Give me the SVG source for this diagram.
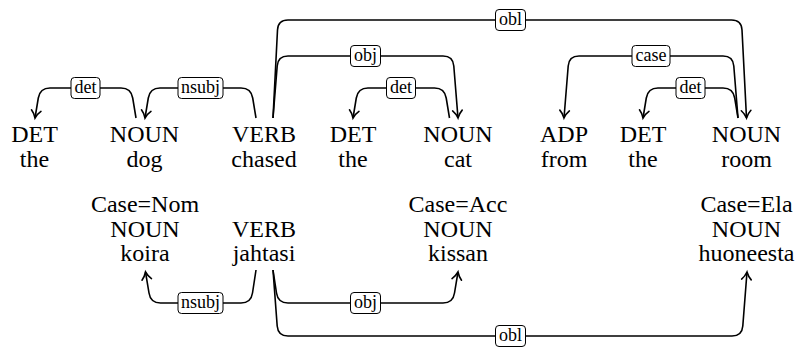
<svg xmlns="http://www.w3.org/2000/svg" width="798" height="347" viewBox="0 0 798 347">
<style>
.w{font-size:24px;text-anchor:middle;fill:#000}
.e{fill:none;stroke:#000;stroke-width:1.6;marker-end:url(#arr)}
.lb rect{fill:#fff;stroke:#000;stroke-width:1}
.lb text{font-size:18px;text-anchor:middle;fill:#000}
</style>
<defs>
<marker id="arr" markerUnits="userSpaceOnUse" viewBox="-10 -6 12 12" refX="0" refY="0" markerWidth="12" markerHeight="12" orient="auto" overflow="visible">
<path d="M-7.5,-4.8 C-4.8,-2 -1.6,-0.6 0,0 C-1.6,0.6 -4.8,2 -7.5,4.8" fill="none" stroke="#000" stroke-width="1.6" stroke-linecap="round"/>
</marker>
</defs>
<rect width="798" height="347" fill="#fff"/>
<g font-family="'Liberation Serif', 'DejaVu Serif', serif">
<g id="connectors">
<path class="e" d="M136,118 L132.7,98 Q131,88 121,88 L50,88 Q40,88 38.3,98 L35,118"/>
<path class="e" d="M256,118 L252.7,98 Q251,88 241,88 L160,88 Q150,88 148.3,98 L145,118"/>
<path class="e" d="M273,118 L277.2,66 Q278,56 288,56 L443,56 Q453,56 453.8,66 L458,118"/>
<path class="e" d="M273,118 L277.5,30 Q278,20 288,20 L731.5,20 Q741.5,20 742,30 L746.5,118"/>
<path class="e" d="M449.5,118 L446.2,98 Q444.5,88 434.5,88 L368,88 Q358,88 356.3,98 L353,118"/>
<path class="e" d="M738,118 L733.8,66 Q733,56 723,56 L579,56 Q569,56 568.2,66 L564,118"/>
<path class="e" d="M738,118 L734.7,98 Q733,88 723,88 L658,88 Q648,88 646.3,98 L643,118"/>
<path class="e" d="M256,270 L252.5,293 Q251,303 241,303 L160.5,303 Q150.5,303 149,293 L145.5,272"/>
<path class="e" d="M273,270 L276.5,293 Q278,303 288,303 L443,303 Q453,303 454.5,293 L458,272"/>
<path class="e" d="M273,270 L277.2,326 Q278,336 288,336 L732,336 Q742,336 742.8,326 L747,272"/>
<g class="lb">
<rect x="71" y="77.5" width="29" height="21" rx="3.5"/><text x="85.5" y="93">det</text>
<rect x="178" y="77.5" width="45" height="21" rx="3.5"/><text x="200.5" y="93">nsubj</text>
<rect x="350.5" y="45.5" width="30" height="21" rx="3.5"/><text x="365.5" y="61">obj</text>
<rect x="495.5" y="9.5" width="30" height="21" rx="3.5"/><text x="510.5" y="25">obl</text>
<rect x="386.5" y="77.5" width="29" height="21" rx="3.5"/><text x="401" y="93">det</text>
<rect x="632" y="45.5" width="38" height="21" rx="3.5"/><text x="651" y="61">case</text>
<rect x="676" y="77.5" width="29" height="21" rx="3.5"/><text x="690.5" y="93">det</text>
<rect x="178" y="292.5" width="45" height="21" rx="3.5"/><text x="200.5" y="308">nsubj</text>
<rect x="350.5" y="292.5" width="30" height="21" rx="3.5"/><text x="365.5" y="308">obj</text>
<rect x="495.5" y="325.5" width="30" height="21" rx="3.5"/><text x="510.5" y="341">obl</text>
</g>
</g>
<g id="en-the1"><text class="w" x="34.5" y="142">DET</text><text class="w" x="34.5" y="166.5">the</text></g>
<g id="en-dog"><text class="w" x="144.5" y="142">NOUN</text><text class="w" x="144.5" y="166.5">dog</text></g>
<g id="en-chased"><text class="w" x="264" y="142">VERB</text><text class="w" x="264" y="166.5">chased</text></g>
<g id="en-the2"><text class="w" x="353" y="142">DET</text><text class="w" x="353" y="166.5">the</text></g>
<g id="en-cat"><text class="w" x="458" y="142">NOUN</text><text class="w" x="458" y="166.5">cat</text></g>
<g id="en-from"><text class="w" x="564" y="142">ADP</text><text class="w" x="564" y="166.5">from</text></g>
<g id="en-the3"><text class="w" x="643" y="142">DET</text><text class="w" x="643" y="166.5">the</text></g>
<g id="en-room"><text class="w" x="746.5" y="142">NOUN</text><text class="w" x="746.5" y="166.5">room</text></g>
<g id="fi-koira"><text class="w" x="145" y="212">Case=Nom</text><text class="w" x="145" y="236.5">NOUN</text><text class="w" x="145" y="261">koira</text></g>
<g id="fi-jahtasi"><text class="w" x="264" y="236.5">VERB</text><text class="w" x="264" y="261">jahtasi</text></g>
<g id="fi-kissan"><text class="w" x="458" y="212">Case=Acc</text><text class="w" x="458" y="236.5">NOUN</text><text class="w" x="458" y="261">kissan</text></g>
<g id="fi-huoneesta"><text class="w" x="746.5" y="212">Case=Ela</text><text class="w" x="746.5" y="236.5">NOUN</text><text class="w" x="746.5" y="261">huoneesta</text></g>
</g>
</svg>
